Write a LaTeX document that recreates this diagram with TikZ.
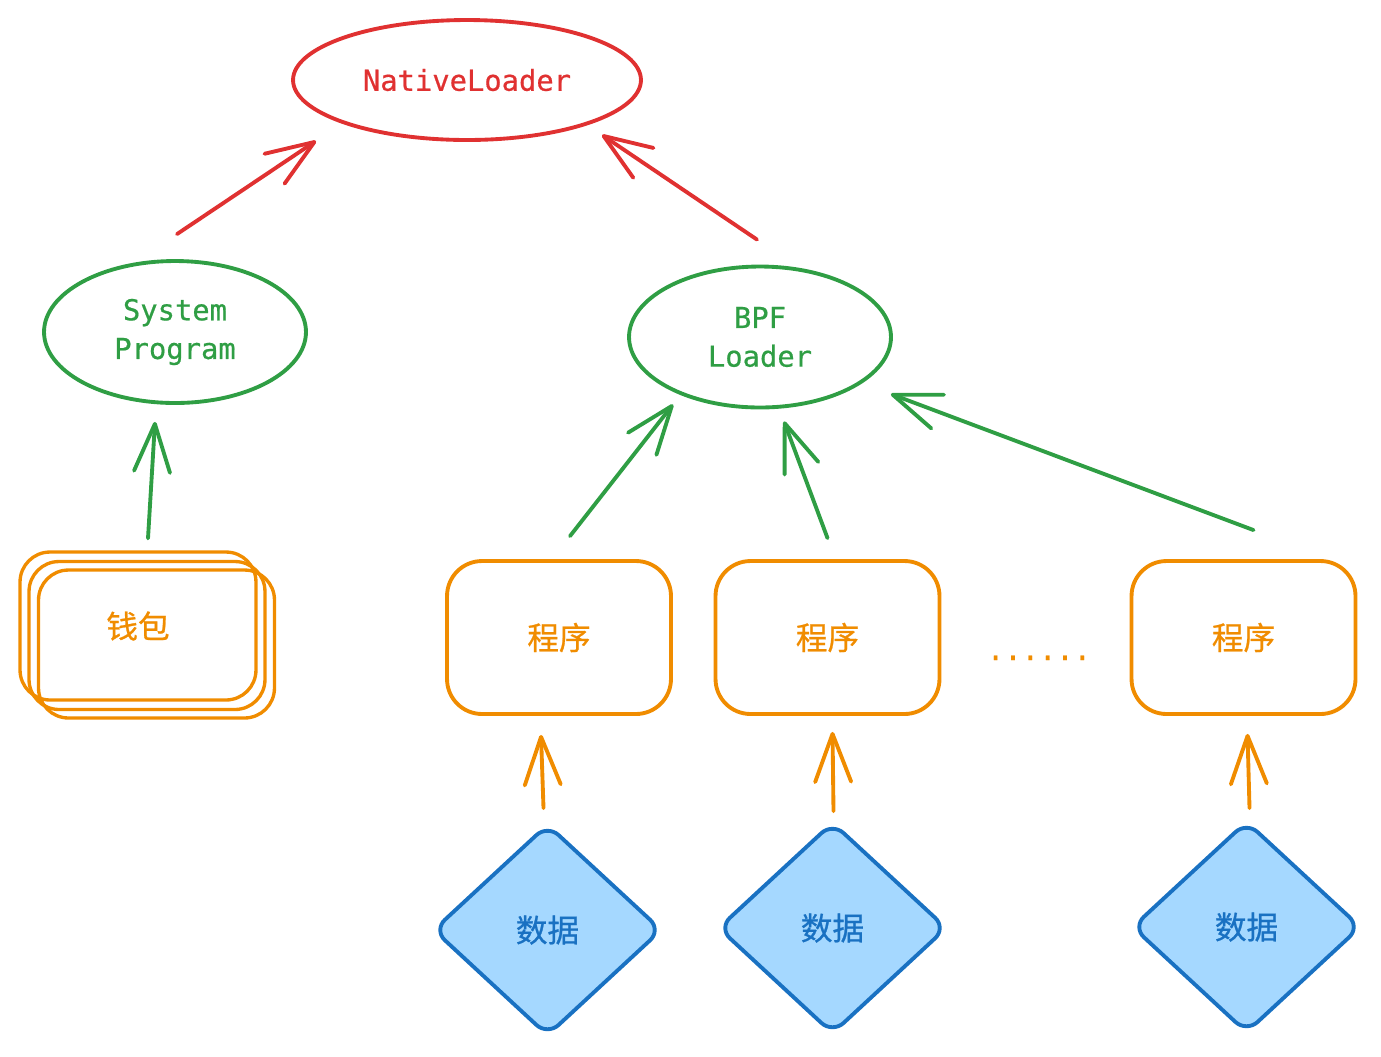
\documentclass[tikz,border=0pt]{standalone}
\usepackage{fontspec}
\newfontfamily\codefont[FakeBold=0.6]{DejaVu Sans Mono}
\newfontfamily\cjk[FakeBold=0.8]{Noto Sans CJK SC}
\usetikzlibrary{shapes.geometric,arrows.meta,calc}

\definecolor{exred}{HTML}{E03131}
\definecolor{exgreen}{HTML}{2F9E44}
\definecolor{exorange}{HTML}{F08C00}
\definecolor{exblue}{HTML}{1971C2}
\definecolor{exlblue}{HTML}{A5D8FF}

\tikzset{
  codetxt/.style={font=\codefont\fontsize{16.4}{22}\selectfont},
  cjktxt/.style={font=\cjk\fontsize{18}{22}\selectfont},
  loader/.style={ellipse,draw,line width=2.2pt,inner sep=0pt,align=center,codetxt},
  progbox/.style={rectangle,draw=exorange,text=exorange,line width=2.2pt,rounded corners=0.7cm,
    minimum width=4.48cm,minimum height=3.06cm,inner sep=0pt,cjktxt},
  walletbox/.style={progbox,rounded corners=0.6cm,minimum width=4.72cm,minimum height=2.96cm,line width=1.9pt},
  databox/.style={diamond,draw=exblue,fill=exlblue,text=exblue,line width=2.2pt,rounded corners=0.3cm,
    shape aspect=1.08,minimum width=4.58cm,minimum height=4.24cm,inner sep=0pt,cjktxt},
  link/.style={line width=2.2pt,line cap=round,-{Straight Barb[round,length=0.96cm,width=0.72cm]}},
}

\begin{document}
\begin{tikzpicture}[x=0.02cm,y=-0.02cm]
\useasboundingbox (0,0) rectangle (1381,1056);

%=== loaders (ellipses) ===
\node[loader,draw=exred,text=exred,minimum width=6.96cm,minimum height=2.4cm] (native) at (467,80) {NativeLoader};
\node[loader,draw=exgreen,text=exgreen,minimum width=5.24cm,minimum height=2.84cm] (sysprog) at (175,332) {System\\Program};
\node[loader,draw=exgreen,text=exgreen,minimum width=5.24cm,minimum height=2.82cm] (bpf) at (760,337) {BPF\\Loader};

%=== wallet: three stacked boxes ===
\node[walletbox] (wallet3) at (156.5,644) {};
\node[walletbox] (wallet2) at (147,635.5) {};
\node[walletbox] (wallet) at (138,626) {钱包};

%=== programs ===
\node[progbox] (prog1) at (559,637.5) {程序};
\node[progbox] (prog2) at (827.5,637.5) {程序};
\node[progbox] (prog3) at (1243.5,637.5) {程序};
\node[codetxt,text=exorange,anchor=base] (more) at (1039,660) {......};

%=== data (diamonds) ===
\node[databox] (data1) at (547.5,930) {数据};
\node[databox] (data2) at (832.5,928) {数据};
\node[databox] (data3) at (1246.5,927) {数据};

%=== arrows: loaders -> NativeLoader ===
\draw[link,exred] ($(sysprog.north)+(2,-25)$) -- ($(native.south)+(-151,-1)$);
\draw[link,exred] ($(bpf.north)+(-3,-25)$) -- ($(native.south)+(135,-7)$);

%=== arrows: wallet / programs -> loaders ===
\draw[link,exgreen] ($(wallet.north)+(10,-12)$) -- ($(sysprog.south)+(-20,17)$);
\draw[link,exgreen] ($(prog1.north)+(11,-23)$) -- ($(bpf.south)+(-87,-5)$);
\draw[link,exgreen] ($(prog2.north)+(0,-21)$) -- ($(bpf.south)+(24,12)$);
\draw[link,exgreen] ($(prog3.north)+(10,-29)$) -- ($(bpf.east)+(-2,57)$);

%=== arrows: data -> programs ===
\draw[link,exorange] ($(data1.north)+(-4,-14)$) -- ($(prog1.south)+(-18,19)$);
\draw[link,exorange] ($(data2.north)+(1,-9)$) -- ($(prog2.south)+(5,16)$);
\draw[link,exorange] ($(data3.north)+(3,-11)$) -- ($(prog3.south)+(4,18)$);

\end{tikzpicture}
\end{document}
